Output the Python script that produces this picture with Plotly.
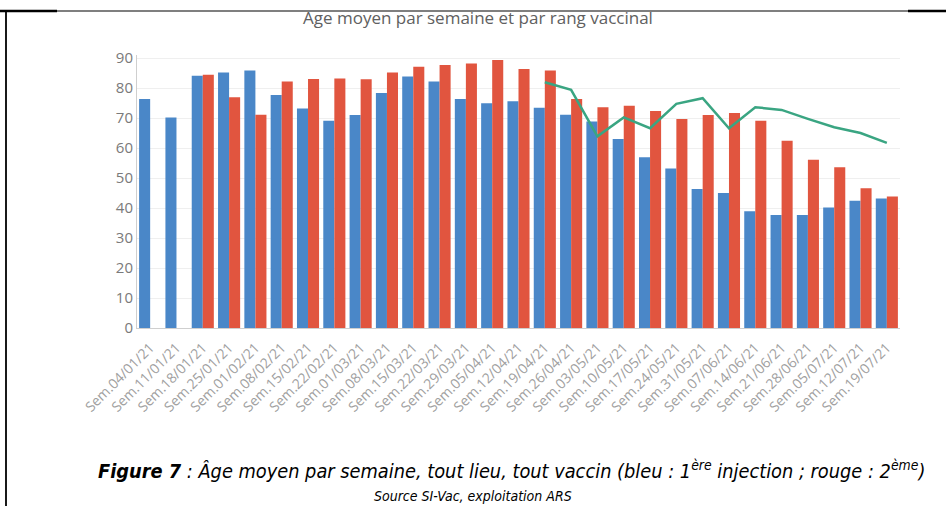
import plotly.graph_objects as go

weeks = ["Sem.04/01/21", "Sem.11/01/21", "Sem.18/01/21", "Sem.25/01/21", "Sem.01/02/21",
         "Sem.08/02/21", "Sem.15/02/21", "Sem.22/02/21", "Sem.01/03/21", "Sem.08/03/21",
         "Sem.15/03/21", "Sem.22/03/21", "Sem.29/03/21", "Sem.05/04/21", "Sem.12/04/21",
         "Sem.19/04/21", "Sem.26/04/21", "Sem.03/05/21", "Sem.10/05/21", "Sem.17/05/21",
         "Sem.24/05/21", "Sem.31/05/21", "Sem.07/06/21", "Sem.14/06/21", "Sem.21/06/21",
         "Sem.28/06/21", "Sem.05/07/21", "Sem.12/07/21", "Sem.19/07/21"]

dose1 = [76.3, 70.2, 84.1, 85.2, 85.8, 77.7, 73.2, 69.1, 71.0, 78.3,
         83.8, 82.2, 76.3, 74.9, 75.6, 73.4, 71.1, 68.8, 63.0, 56.9,
         53.2, 46.3, 45.0, 38.9, 37.7, 37.7, 40.2, 42.4, 43.2]

dose2 = [None, None, 84.4, 76.9, 71.1, 82.2, 83.0, 83.2, 82.9, 85.2,
         87.1, 87.7, 88.2, 89.3, 86.3, 85.8, 76.3, 73.6, 74.1, 72.3,
         69.7, 71.0, 71.7, 69.1, 62.4, 56.1, 53.6, 46.6, 43.8]

line_weeks = weeks[15:]
line_vals = [81.9, 79.4, 63.9, 70.2, 66.6, 74.7, 76.6, 66.6, 73.6, 72.7,
             69.7, 66.9, 65.0, 61.7]

y_ticks = [0, 10, 20, 30, 40, 50, 60, 70, 80, 90]

title_text = "Age moyen par semaine et par rang vaccinal"
caption_text = ("<b>Figure 7</b> : Âge moyen par semaine, tout lieu, tout vaccin "
                "(bleu : 1<sup>ère</sup> injection ; rouge : 2<sup>ème</sup>)")
source_text = "Source SI-Vac, exploitation ARS"

W, H = 946, 506
L, R, T, B = 137, 46, 55, 178
PW = W - L - R
PH = H - T - B


def px(x):
    return (x - L) / PW


def py(y):
    return (H - B - y) / PH


fig = go.Figure()
fig.add_trace(go.Bar(x=weeks, y=dose1, marker_color="#4a87c8", marker_line_width=0,
                     name="1ère injection"))
fig.add_trace(go.Bar(x=weeks, y=dose2, marker_color="#e1553f", marker_line_width=0,
                     name="2ème injection"))
fig.add_trace(go.Scatter(x=line_weeks, y=line_vals, mode="lines",
                         line=dict(color="#3aa582", width=2.5), name="ligne"))

fig.update_layout(
    width=W, height=H,
    margin=dict(l=L, r=R, t=T, b=B),
    paper_bgcolor="white", plot_bgcolor="white",
    barmode="group", bargap=0.16, bargroupgap=0,
    showlegend=False,
    font=dict(family="Open Sans, sans-serif"),
)
fig.update_xaxes(
    type="category", tickangle=-45, showgrid=False,
    tickfont=dict(size=14, color="#a0a0a0"), ticklabelstandoff=5,
    showline=True, linecolor="#cfcfcf", linewidth=1, ticks="",
)
fig.update_yaxes(
    range=[0, 91], tickvals=y_ticks, showgrid=True, gridcolor="#efefef",
    tickfont=dict(size=15, color="#7a7a7a"), zeroline=False,
    showline=True, linecolor="#cfcfcf", linewidth=1, ticks="",
)

fig.add_annotation(text=title_text, xref="paper", yref="paper", x=px(478), y=py(17),
                   showarrow=False, xanchor="center", yanchor="middle",
                   font=dict(size=17, color="#606060", family="Open Sans, sans-serif"))
fig.add_annotation(text=caption_text, xref="paper", yref="paper", x=px(511), y=py(470),
                   showarrow=False, xanchor="center", yanchor="middle",
                   font=dict(size=19.8, color="#000000",
                             family="Liberation Sans Narrow, DejaVu Sans Condensed, sans-serif",
                             style="italic"))
fig.add_annotation(text=source_text, xref="paper", yref="paper", x=px(473), y=py(496),
                   showarrow=False, xanchor="center", yanchor="middle",
                   font=dict(size=14, color="#000000",
                             family="Liberation Sans Narrow, DejaVu Sans Condensed, sans-serif",
                             style="italic"))

# document border lines
fig.add_shape(type="line", xref="paper", yref="paper", x0=px(0), x1=px(946),
              y0=py(11), y1=py(11), line=dict(color="black", width=1.2))
fig.add_shape(type="line", xref="paper", yref="paper", x0=px(0), x1=px(57),
              y0=py(11), y1=py(11), line=dict(color="black", width=2.5))
fig.add_shape(type="line", xref="paper", yref="paper", x0=px(908), x1=px(946),
              y0=py(11), y1=py(11), line=dict(color="black", width=2.5))
fig.add_shape(type="line", xref="paper", yref="paper", x0=px(6), x1=px(6),
              y0=py(11), y1=py(506), line=dict(color="black", width=1.8))

fig.write_html("out.html", config={"displayModeBar": False},
               post_script="document.body.style.margin='0px';")
